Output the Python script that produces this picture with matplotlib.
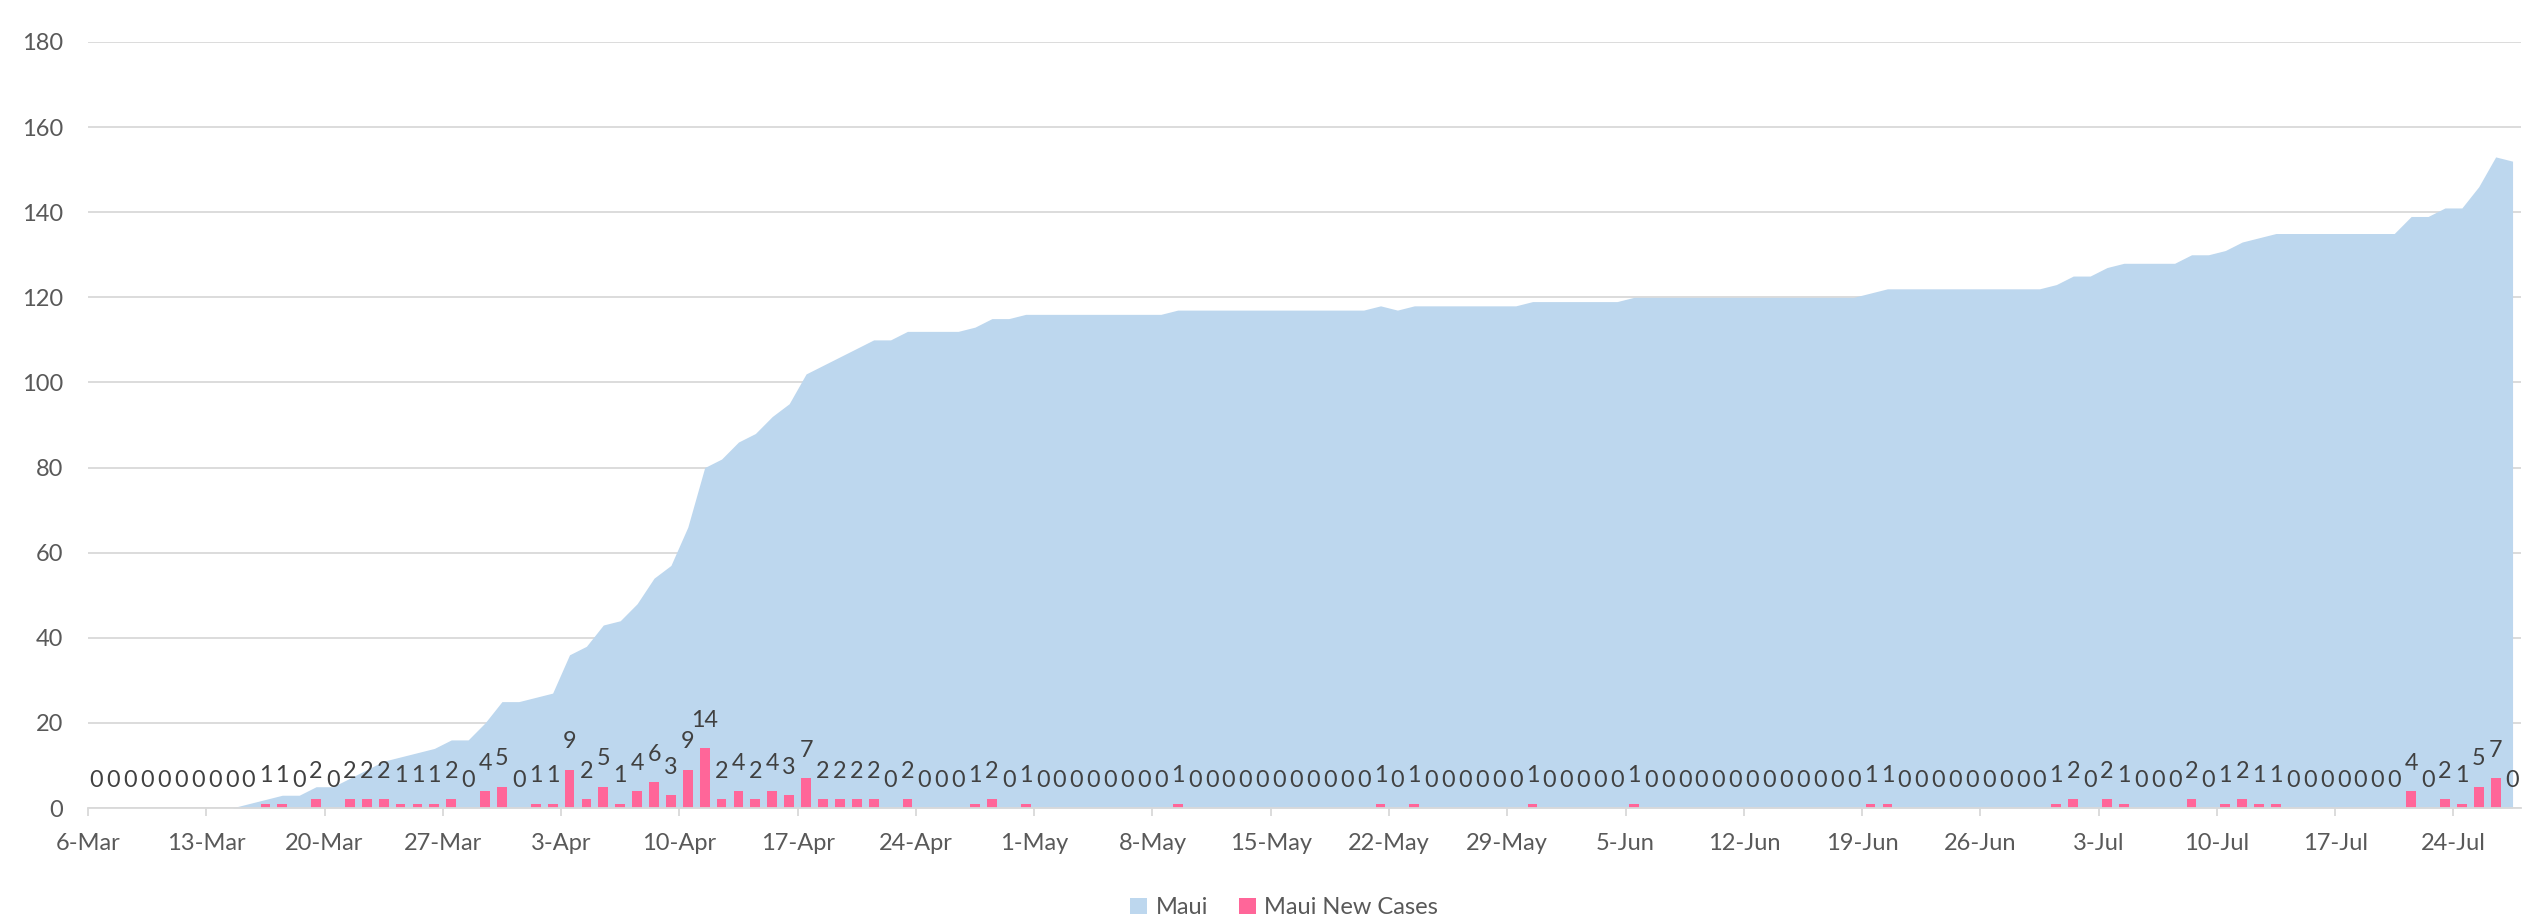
import matplotlib
matplotlib.use('Agg')
import matplotlib.pyplot as plt
import matplotlib.dates as mdates
from matplotlib.patches import Patch
import pandas as pd

plt.rcParams['font.family'] = ['Lato', 'DejaVu Sans']

start_date = '2020-03-06'
end_date = '2020-07-28'

# Cumulative Maui cases, one per day from 6-Mar to 27-Jul
maui = [
    # Mar 6-31
    0, 0, 0, 0, 0, 0, 0, 0, 0, 1, 2, 3, 3, 5, 5, 7, 9, 11, 12, 13, 14, 16, 16, 20, 25, 25,
    # Apr 1-30
    26, 27, 36, 38, 43, 44, 48, 54, 57, 66, 80, 82, 86, 88, 92, 95, 102, 104, 106, 108,
    110, 110, 112, 112, 112, 112, 113, 115, 115, 116,
    # May 1-31
    116, 116, 116, 116, 116, 116, 116, 116, 117, 117, 117, 117, 117, 117, 117, 117,
    117, 117, 117, 117, 118, 117, 118, 118, 118, 118, 118, 118, 118, 119, 119,
    # Jun 1-30
    119, 119, 119, 119, 120, 120, 120, 120, 120, 120, 120, 120, 120, 120, 120, 120,
    120, 120, 121, 122, 122, 122, 122, 122, 122, 122, 122, 122, 122, 123,
    # Jul 1-27
    125, 125, 127, 128, 128, 128, 128, 130, 130, 131, 133, 134, 135, 135, 135, 135,
    135, 135, 135, 135, 139, 139, 141, 141, 146, 153, 152,
]

# Daily new cases
new_cases = [
    # Mar 6-31
    0, 0, 0, 0, 0, 0, 0, 0, 0, 0, 1, 1, 0, 2, 0, 2, 2, 2, 1, 1, 1, 2, 0, 4, 5, 0,
    # Apr 1-30
    1, 1, 9, 2, 5, 1, 4, 6, 3, 9, 14, 2, 4, 2, 4, 3, 7, 2, 2, 2,
    2, 0, 2, 0, 0, 0, 1, 2, 0, 1,
    # May 1-31
    0, 0, 0, 0, 0, 0, 0, 0, 1, 0, 0, 0, 0, 0, 0, 0,
    0, 0, 0, 0, 1, 0, 1, 0, 0, 0, 0, 0, 0, 1, 0,
    # Jun 1-30
    0, 0, 0, 0, 1, 0, 0, 0, 0, 0, 0, 0, 0, 0, 0, 0,
    0, 0, 1, 1, 0, 0, 0, 0, 0, 0, 0, 0, 0, 1,
    # Jul 1-27
    2, 0, 2, 1, 0, 0, 0, 2, 0, 1, 2, 1, 1, 0, 0, 0,
    0, 0, 0, 0, 4, 0, 2, 1, 5, 7, 0,
]

series_names = ['Maui', 'Maui New Cases']
y_ticks = [0, 20, 40, 60, 80, 100, 120, 140, 160, 180]

dates = pd.date_range(start_date, periods=len(maui), freq='D')
x = mdates.date2num(dates.to_pydatetime()) + 0.5  # centre of each day slot

tick_dates = pd.date_range(start_date, end_date, freq='7D')
tick_pos = mdates.date2num(tick_dates.to_pydatetime())
tick_labels = [f"{d.day}-{d.strftime('%b')}" for d in tick_dates]

W, H = 2534, 922
fig = plt.figure(figsize=(W / 100, H / 100), dpi=100)
ax = fig.add_axes([88 / W, 1 - 808 / H, (2521 - 88) / W, (808 - 42) / H])

area_color = '#BDD7EE'
bar_color = '#FF6699'
grid_color = '#D9D9D9'
text_color = '#595959'

ax.fill_between(x, maui, 0, color=area_color, lw=0, zorder=1)
ax.bar(x, new_cases, width=0.58, color=bar_color, zorder=2)

for xi, v in zip(x, new_cases):
    ax.annotate(str(v), (xi, v), xytext=(0, 20), textcoords='offset points',
                ha='center', va='center', fontsize=16.8, color='#404040', zorder=3)

ax.set_xlim(mdates.date2num(pd.Timestamp(start_date).to_pydatetime()),
            mdates.date2num(pd.Timestamp(end_date).to_pydatetime()))
ax.set_ylim(0, 180)
ax.set_yticks(y_ticks)
ax.set_xticks(tick_pos)
ax.set_xticklabels(tick_labels)

ax.set_axisbelow(True)
ax.grid(axis='y', color=grid_color, lw=1.3)
ax.grid(axis='x', visible=False)
for s in ['top', 'right', 'left']:
    ax.spines[s].set_visible(False)
ax.spines['bottom'].set_color(grid_color)
ax.spines['bottom'].set_linewidth(1.3)

ax.tick_params(axis='y', length=0, pad=18, labelsize=17, labelcolor=text_color)
ax.tick_params(axis='x', length=6, width=1.3, color=grid_color, pad=12,
               labelsize=17, labelcolor=text_color)

handles = [Patch(facecolor=area_color, edgecolor='none'),
           Patch(facecolor=bar_color, edgecolor='none')]
fig.legend(handles, series_names, loc='center', bbox_to_anchor=(0.5067, 0.0155),
           ncol=2, frameon=False, fontsize=17, labelcolor=text_color,
           handlelength=0.72, handleheight=0.72, handletextpad=0.35,
           columnspacing=1.3)

fig.savefig('out.png', dpi=100)
